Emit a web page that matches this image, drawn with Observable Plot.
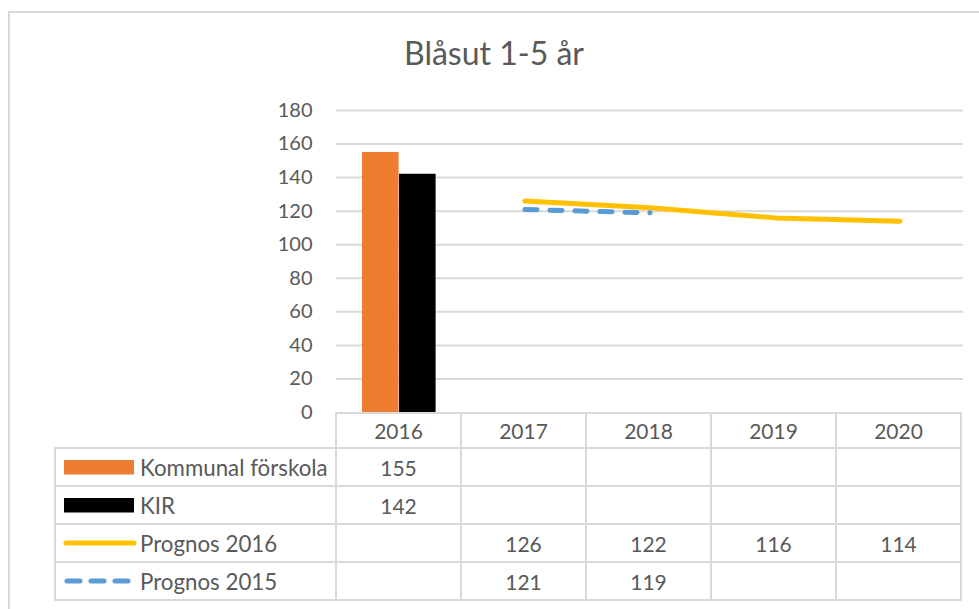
<!DOCTYPE html>
<html>
<head>
<meta charset="utf-8">
<script src="https://cdn.jsdelivr.net/npm/d3@7"></script>
<script src="https://cdn.jsdelivr.net/npm/@observablehq/plot@0.6"></script>
<style>
  body { margin: 0; background: #fff; }
  #wrap { position: relative; width: 979px; height: 609px; overflow: hidden; font-family: Lato, "Open Sans", sans-serif; color: #595959; }
  #frame { position: absolute; left: 8px; top: 11px; width: 1100px; height: 800px; border-left: 2px solid #d9d9d9; border-top: 2px solid #d9d9d9; box-sizing: border-box; }
  #title { position: absolute; left: 9px; width: 970px; top: 34px; text-align: center; font-size: 32px; line-height: 38px; color: #595959; }
  #chart { position: absolute; left: 0; top: 0; }
  #table { position: absolute; display: grid; }
  .c { box-sizing: border-box; border-right: 2px solid #d9d9d9; border-bottom: 2px solid #d9d9d9; display: flex; align-items: center; justify-content: center; font-size: 21px; color: #595959; }
  .c.top { border-top: 2px solid #d9d9d9; }
  .c.first { border-left: 2px solid #d9d9d9; justify-content: flex-start; padding-left: 7px; font-size: 22.3px; }
  .c.empty { border-right: 2px solid #d9d9d9; }
  .c.first svg { margin-right: 3px; flex: none; }
</style>
</head>
<body>
<div id="wrap">
  <div id="frame"></div>
  <div id="title"></div>
  <div id="chart"></div>
  <div id="table"></div>
</div>
<script>
const title = "Blåsut 1-5 år";
const years = ["2016", "2017", "2018", "2019", "2020"];
const seriesNames = ["Kommunal förskola", "KIR", "Prognos 2016", "Prognos 2015"];
const kommunal = [155, null, null, null, null];
const kir = [142, null, null, null, null];
const prognos2016 = [null, 126, 122, 116, 114];
const prognos2015 = [null, 121, 119, null, null];
const yTicks = [0, 20, 40, 60, 80, 100, 120, 140, 160, 180];

const colors = {
  "Kommunal förskola": "#ED7D31",
  "KIR": "#000000",
  "Prognos 2016": "#FFC000",
  "Prognos 2015": "#5B9BD5"
};
const seriesValues = {
  "Kommunal förskola": kommunal,
  "KIR": kir,
  "Prognos 2016": prognos2016,
  "Prognos 2015": prognos2015
};
const rowsOf = (name) => years.map((year, i) => ({year, value: seriesValues[name][i], series: name})).filter(d => d.value != null);

document.getElementById("title").textContent = title;

const W = 979, mL = 336, mR = 16;
const bandwidth = (W - mL - mR) / years.length;

const plot = Plot.plot({
  width: W,
  height: 413,
  marginTop: 110,
  marginBottom: 1,
  marginLeft: mL,
  marginRight: mR,
  style: { fontFamily: "Lato, 'Open Sans', sans-serif", fontSize: "20px", color: "#595959", background: "transparent", overflow: "visible" },
  x: { type: "band", domain: years, padding: 0, axis: null },
  y: { domain: [0, 180], ticks: yTicks, label: null },
  marks: [
    Plot.ruleY(yTicks.filter(d => d > 0), { stroke: "#d9d9d9", strokeWidth: 2, strokeOpacity: 1 }),
    Plot.axisY({ ticks: yTicks, tickSize: 0, tickPadding: 24, label: null, fill: "#595959" }),
    Plot.barY(rowsOf("Kommunal förskola"), { x: "year", y: "value", fill: colors["Kommunal förskola"], insetLeft: 25, insetRight: bandwidth - 62 }),
    Plot.barY(rowsOf("KIR"), { x: "year", y: "value", fill: colors["KIR"], insetLeft: 62, insetRight: bandwidth - 99 }),
    Plot.line(rowsOf("Prognos 2016"), { x: "year", y: "value", stroke: colors["Prognos 2016"], strokeWidth: 5, strokeLinecap: "round" }),
    Plot.line(rowsOf("Prognos 2015"), { x: "year", y: "value", stroke: colors["Prognos 2015"], strokeWidth: 5, strokeLinecap: "round", strokeDasharray: "12,13" })
  ]
});
document.getElementById("chart").appendChild(plot);

// data table below the plot, columns aligned with the x scale
const xs = plot.scale("x");
const ys = plot.scale("y");
const tableLeft = 54;
const tableTop = ys.apply(0);
const table = document.getElementById("table");
table.style.left = tableLeft + "px";
table.style.top = tableTop + "px";
table.style.gridTemplateColumns = `${xs.apply(years[0]) - tableLeft}px repeat(${years.length}, ${xs.bandwidth}px)`;
table.style.gridTemplateRows = `37px repeat(${seriesNames.length}, 38px)`;

function cell(cls, content) {
  const d = document.createElement("div");
  d.className = "c " + cls;
  if (typeof content === "string") d.textContent = content; else if (content) d.appendChild(content);
  table.appendChild(d);
  return d;
}
cell("empty", "");
years.forEach(y => cell("top", y));

const ns = "http://www.w3.org/2000/svg";
function swatch(name) {
  const s = document.createElementNS(ns, "svg");
  s.setAttribute("width", 74); s.setAttribute("height", 16);
  const c = colors[name];
  if (name === "Kommunal förskola" || name === "KIR") {
    const r = document.createElementNS(ns, "rect");
    r.setAttribute("x", 1); r.setAttribute("y", 1); r.setAttribute("width", 70); r.setAttribute("height", 14.5);
    r.setAttribute("fill", c);
    s.appendChild(r);
  } else {
    const l = document.createElementNS(ns, "line");
    l.setAttribute("x1", 3); l.setAttribute("x2", 71); l.setAttribute("y1", 8); l.setAttribute("y2", 8);
    l.setAttribute("stroke", c); l.setAttribute("stroke-width", 5); l.setAttribute("stroke-linecap", "round");
    if (name === "Prognos 2015") { l.setAttribute("x1", 4); l.setAttribute("x2", 69); l.setAttribute("stroke-dasharray", "13,11"); }
    s.appendChild(l);
  }
  return s;
}
seriesNames.forEach(name => {
  const f = cell("first", swatch(name));
  f.appendChild(document.createTextNode(name));
  seriesValues[name].forEach(v => cell("", v == null ? "" : String(v)));
});
</script>
</body>
</html>
